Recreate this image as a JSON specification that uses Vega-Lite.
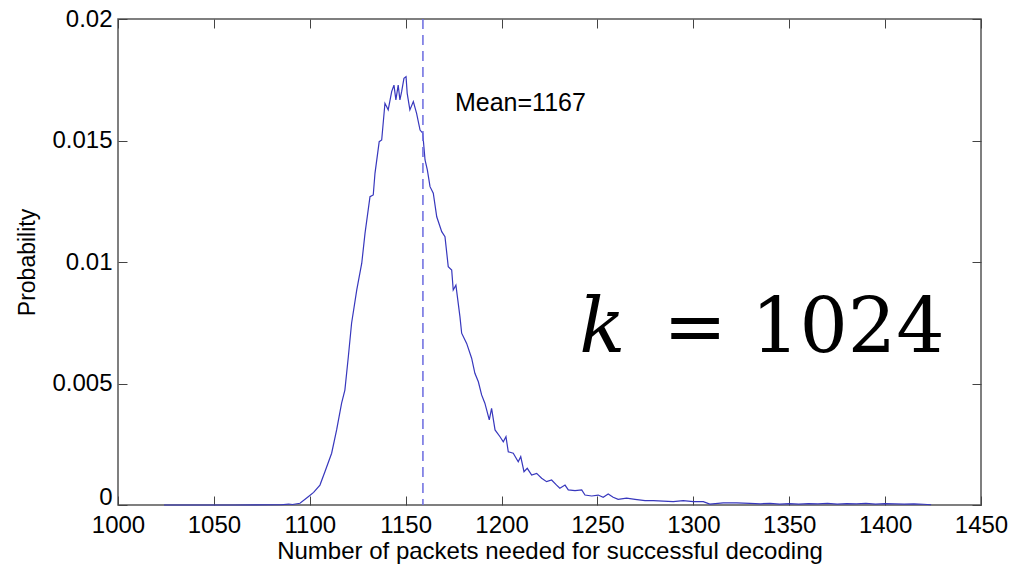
{
  "$schema": "https://vega.github.io/schema/vega-lite/v6.json",
  "width": 863,
  "height": 486,
  "autosize": {"type": "none"},
  "padding": {"left": 118, "top": 19, "right": 49, "bottom": 61},
  "background": "white",
  "config": {
    "font": "Liberation Sans",
    "view": {"stroke": "#555555", "strokeWidth": 1.5},
    "axis": {"domain": false, "grid": false, "tickColor": "#444444", "tickSize": -9, "tickWidth": 1, "labelColor": "#000000", "titleColor": "#000000", "labelFont": "Liberation Sans", "titleFont": "Liberation Sans", "titleFontWeight": "normal"}
  },
  "datasets": {
    "curve": [
      {"n": 1024, "p": 0}, {"n": 1060, "p": 0}, {"n": 1085, "p": 0.00001}, {"n": 1089, "p": 0.00004}, {"n": 1091, "p": 0.00002},
      {"n": 1094.9, "p": 0.00007}, {"n": 1099.2, "p": 0.00034}, {"n": 1102, "p": 0.00052}, {"n": 1105.3, "p": 0.00082}, {"n": 1107.9, "p": 0.00137},
      {"n": 1111.4, "p": 0.00213}, {"n": 1114.0, "p": 0.00309}, {"n": 1116.6, "p": 0.00419}, {"n": 1118.3, "p": 0.00473},
      {"n": 1120.1, "p": 0.0061}, {"n": 1121.8, "p": 0.00748}, {"n": 1124.5, "p": 0.00885}, {"n": 1127.1, "p": 0.00995},
      {"n": 1128.8, "p": 0.01118}, {"n": 1131.4, "p": 0.01269}, {"n": 1133.1, "p": 0.01276}, {"n": 1134.0, "p": 0.01365},
      {"n": 1136.2, "p": 0.01495}, {"n": 1137.5, "p": 0.01502}, {"n": 1139.2, "p": 0.01653}, {"n": 1140.9, "p": 0.01626},
      {"n": 1142.7, "p": 0.01701}, {"n": 1143.9, "p": 0.01728}, {"n": 1144.9, "p": 0.01667}, {"n": 1146.1, "p": 0.01728},
      {"n": 1147.0, "p": 0.01667}, {"n": 1147.9, "p": 0.01701}, {"n": 1149.1, "p": 0.01756}, {"n": 1150.2, "p": 0.01763},
      {"n": 1150.8, "p": 0.01694}, {"n": 1152.2, "p": 0.01626}, {"n": 1154.0, "p": 0.0166}, {"n": 1155.7, "p": 0.01612},
      {"n": 1157.5, "p": 0.01543}, {"n": 1158.9, "p": 0.0153}, {"n": 1160.1, "p": 0.0142}, {"n": 1161.3, "p": 0.01379},
      {"n": 1162.7, "p": 0.0131}, {"n": 1164.4, "p": 0.01283}, {"n": 1166.2, "p": 0.01186}, {"n": 1168.8, "p": 0.01125},
      {"n": 1170.5, "p": 0.01104}, {"n": 1172.2, "p": 0.00981}, {"n": 1174.0, "p": 0.00967}, {"n": 1174.8, "p": 0.00885},
      {"n": 1176.2, "p": 0.00905}, {"n": 1178.3, "p": 0.00775}, {"n": 1179.2, "p": 0.00707}, {"n": 1181.8, "p": 0.00665},
      {"n": 1184.4, "p": 0.00604}, {"n": 1186.1, "p": 0.00542}, {"n": 1187.9, "p": 0.00507}, {"n": 1189.6, "p": 0.00453},
      {"n": 1191.3, "p": 0.00419}, {"n": 1193.6, "p": 0.0035}, {"n": 1194.8, "p": 0.00398}, {"n": 1196.6, "p": 0.00309},
      {"n": 1199.2, "p": 0.00281}, {"n": 1200.9, "p": 0.0026}, {"n": 1202.3, "p": 0.00281}, {"n": 1203.5, "p": 0.00219},
      {"n": 1206.1, "p": 0.00213}, {"n": 1208.7, "p": 0.00178}, {"n": 1210.0, "p": 0.00199}, {"n": 1211.7, "p": 0.00137},
      {"n": 1213.4, "p": 0.00151}, {"n": 1215.7, "p": 0.00123}, {"n": 1218.3, "p": 0.0013}, {"n": 1220.9, "p": 0.0011},
      {"n": 1223.5, "p": 0.00096}, {"n": 1226.1, "p": 0.00103}, {"n": 1228.7, "p": 0.00082}, {"n": 1230.4, "p": 0.00069},
      {"n": 1233.1, "p": 0.00082}, {"n": 1234.8, "p": 0.00062}, {"n": 1238.3, "p": 0.00059}, {"n": 1241.8, "p": 0.00062},
      {"n": 1243.5, "p": 0.00041}, {"n": 1247.0, "p": 0.00037}, {"n": 1250.4, "p": 0.00041}, {"n": 1253.0, "p": 0.00032},
      {"n": 1255.6, "p": 0.00045}, {"n": 1258.2, "p": 0.00032}, {"n": 1260.8, "p": 0.00023}, {"n": 1265.2, "p": 0.00028},
      {"n": 1269.6, "p": 0.00023}, {"n": 1274.8, "p": 0.00018}, {"n": 1279.1, "p": 0.00018}, {"n": 1284.3, "p": 0.00016},
      {"n": 1289.5, "p": 0.00014}, {"n": 1294.7, "p": 0.00018}, {"n": 1300.0, "p": 0.00014}, {"n": 1305.2, "p": 0.00014},
      {"n": 1308.6, "p": 0.00004}, {"n": 1315.6, "p": 0.00009}, {"n": 1322.6, "p": 0.00009}, {"n": 1329.5, "p": 0.00007},
      {"n": 1335, "p": 0.00005}, {"n": 1340, "p": 0.00007}, {"n": 1345, "p": 0.00004}, {"n": 1350, "p": 0.00006},
      {"n": 1355, "p": 0.00004}, {"n": 1360, "p": 0.00006}, {"n": 1365, "p": 0.00005}, {"n": 1370, "p": 0.00007},
      {"n": 1375, "p": 0.00004}, {"n": 1380, "p": 0.00006}, {"n": 1385, "p": 0.00005}, {"n": 1390, "p": 0.00007},
      {"n": 1395, "p": 0.00004}, {"n": 1400, "p": 0.00006}, {"n": 1405, "p": 0.00005}, {"n": 1410, "p": 0.00004},
      {"n": 1415, "p": 0.00005}, {"n": 1420, "p": 0.00003}, {"n": 1424, "p": 0.00001}
    ],
    "mean": [{"n": 1159, "label": "Mean=1167", "tx": 1175.7, "ty": 0.0162}],
    "kl": [{"n": 1240.5, "p": 0.0063, "k": "k", "rest": "= 1024", "nr": 1431}]
  },
  "resolve": {"axis": {"x": "independent", "y": "independent"}},
  "layer": [
    {
      "data": {"name": "curve"},
      "mark": {"type": "line", "color": "#3737bd", "strokeWidth": 1.2, "interpolate": "linear"},
      "encoding": {
        "x": {"field": "n", "type": "quantitative", "scale": {"domain": [1000, 1450], "nice": false, "zero": false},
              "axis": {"orient": "bottom", "values": [1000, 1050, 1100, 1150, 1200, 1250, 1300, 1350, 1400, 1450], "format": "d", "labelFontSize": 24, "labelPadding": 17, "labelFlush": false, "title": "Number of packets needed for successful decoding", "titleFontSize": 24, "titlePadding": 2}},
        "y": {"field": "p", "type": "quantitative", "scale": {"domain": [0, 0.02], "nice": false},
              "axis": {"orient": "left", "values": [0, 0.005, 0.01, 0.015, 0.02], "labelExpr": "'' + datum.value", "labelFontSize": 24, "labelPadding": 15, "labelFlush": false, "labelOffset": {"condition": {"test": "datum.value == 0", "value": -8}, "value": 0}, "title": "Probability", "titleFontSize": 23, "titlePadding": 12}}
      }
    },
    {
      "data": {"name": "mean"},
      "mark": {"type": "rule", "color": "#6b6be0", "strokeWidth": 1.5, "strokeDash": [10, 6]},
      "encoding": {
        "x": {"field": "n", "type": "quantitative", "axis": null}
      }
    },
    {
      "data": {"name": "mean"},
      "mark": {"type": "text", "align": "left", "baseline": "alphabetic", "fontSize": 25, "font": "Liberation Sans", "color": "#000000"},
      "encoding": {
        "x": {"field": "tx", "type": "quantitative",
              "axis": {"orient": "top", "values": [1000, 1050, 1100, 1150, 1200, 1250, 1300, 1350, 1400, 1450], "labels": false, "title": null}},
        "y": {"field": "ty", "type": "quantitative",
              "axis": {"orient": "right", "values": [0, 0.005, 0.01, 0.015, 0.02], "labels": false, "title": null}},
        "text": {"field": "label"}
      }
    },
    {
      "data": {"name": "kl"},
      "mark": {"type": "text", "align": "left", "baseline": "alphabetic", "fontSize": 76, "font": "DejaVu Serif", "fontStyle": "italic", "color": "#000000"},
      "encoding": {
        "x": {"field": "n", "type": "quantitative", "axis": null},
        "y": {"field": "p", "type": "quantitative", "axis": null},
        "text": {"field": "k"}
      }
    },
    {
      "data": {"name": "kl"},
      "mark": {"type": "text", "align": "right", "baseline": "alphabetic", "fontSize": 76, "font": "DejaVu Serif", "color": "#000000"},
      "encoding": {
        "x": {"field": "nr", "type": "quantitative", "axis": null},
        "y": {"field": "p", "type": "quantitative", "axis": null},
        "text": {"field": "rest"}
      }
    }
  ]
}
